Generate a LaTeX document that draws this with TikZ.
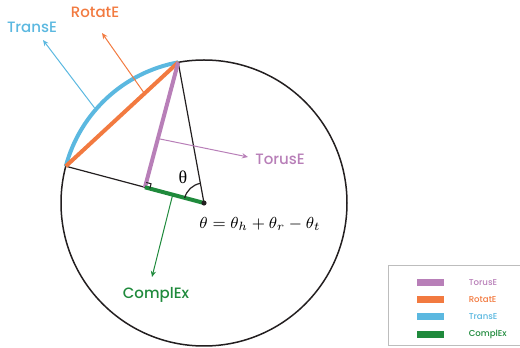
\documentclass[tikz,border=0pt]{standalone}
\usepackage{amsmath}
\usepackage{fontspec}
\setsansfont{Poppins}[UprightFont={* Medium}]
\newfontfamily\thetafont{Liberation Serif}
\usepackage{tikz}
\usetikzlibrary{arrows.meta,positioning,calc}
\definecolor{kgBlue}{HTML}{5BB8E0}
\definecolor{kgOrange}{HTML}{F27A40}
\definecolor{kgPurple}{HTML}{B87FB8}
\definecolor{kgGreen}{HTML}{1F8A3C}
\definecolor{kgFrame}{HTML}{BDBDBD}
\definecolor{kgInk}{HTML}{231F20}

\begin{document}
\begin{tikzpicture}[x=0.5pt, y=0.5pt,
  fat/.style={line width=2pt},
  lbl/.style={font=\sffamily\fontsize{7.5}{9}\selectfont, inner sep=0pt},
  legtext/.style={font=\sffamily\fontsize{4.3}{5}\selectfont, inner sep=0pt, anchor=west},
  callout/.style={line width=0.5pt,-{Stealth[length=3pt,width=2.6pt]}},
  swatch/.style={minimum width=13.5pt, minimum height=3.6pt, inner sep=0pt}]
\clip (0,0) rectangle (520,348);
% circle, radii and the three end points
\coordinate (C) at (204,145);
\coordinate (T) at ($(C)+(100.4:143)$);
\coordinate (L) at ($(C)+(165.1:143)$);
\coordinate (F) at ($(C)!(T)!(L)$);
\draw[kgInk,line width=0.75pt] (C) circle[radius=143];
\draw[kgInk,line width=0.6pt] (T) -- (C) -- (L);
\draw[kgBlue,fat] (L) arc[start angle=165.1, end angle=100.4, radius=143];
\draw[kgOrange,fat] (L) -- (T);
\draw[kgPurple,fat] (T) -- (F);
\draw[kgGreen,fat] (F) -- (C);
% right angle and theta
\coordinate (fa) at ($(F)!2.5pt!(C)$);
\coordinate (fb) at ($(F)!2.5pt!(T)$);
\draw[kgInk,line width=0.5pt] (fa) -- ($(fa)+(fb)-(F)$) -- (fb);
\draw[kgInk,line width=0.6pt] ($(C)+(100.4:20)$) arc[start angle=100.4, end angle=165.1, radius=20];
\fill[kgInk] (C) circle[radius=2.6];
\node[font=\thetafont\fontsize{9}{10}\selectfont, inner sep=0pt] (theta) at (183,171) {θ};
\node[font=\fontsize{8.4}{10}\selectfont, inner sep=0pt] (rule) at (260,124) {$\theta = \theta_h + \theta_r - \theta_t$};
% callouts
\node[lbl, text=kgBlue] (transe) at (32,321) {TransE};
\node[lbl, text=kgOrange] (rotate) at (95,336) {RotatE};
\node[lbl, text=kgPurple] (toruse) at (280,189) {TorusE};
\node[lbl, text=kgGreen] (complex) at (156,53) {ComplEx};
\coordinate (sB) at ($(C)+(139:145)$);   \coordinate (eB) at (43,308);
\coordinate (sO) at ($(L)!0.7!(T)$);      \coordinate (eO) at (102,315);
\coordinate (sP) at ($(F)!0.39!(T)$);     \coordinate (eP) at (248,191);
\coordinate (sG) at ($(F)!0.47!(C)$);     \coordinate (eG) at (152,71);
\draw[callout,kgBlue] (sB) -- (eB);
\draw[callout,kgOrange] (sO) -- (eO);
\draw[callout,kgPurple] (sP) -- (eP);
\draw[callout,kgGreen] (sG) -- (eG);
% legend
\draw[kgFrame,line width=0.5pt] (530,82) -- (388,82) -- (388,2) -- (530,2);
\foreach \c/\t [count=\i] in {kgPurple/TorusE,kgOrange/RotatE,kgBlue/TransE,kgGreen/ComplEx}{
  \node[swatch, fill=\c] (sw\i) at (430.5,{83-17.3*\i}) {};
  \node[legtext, text=\c, right=12pt of sw\i] (lg\i) {\t};
}
\end{tikzpicture}
\end{document}
